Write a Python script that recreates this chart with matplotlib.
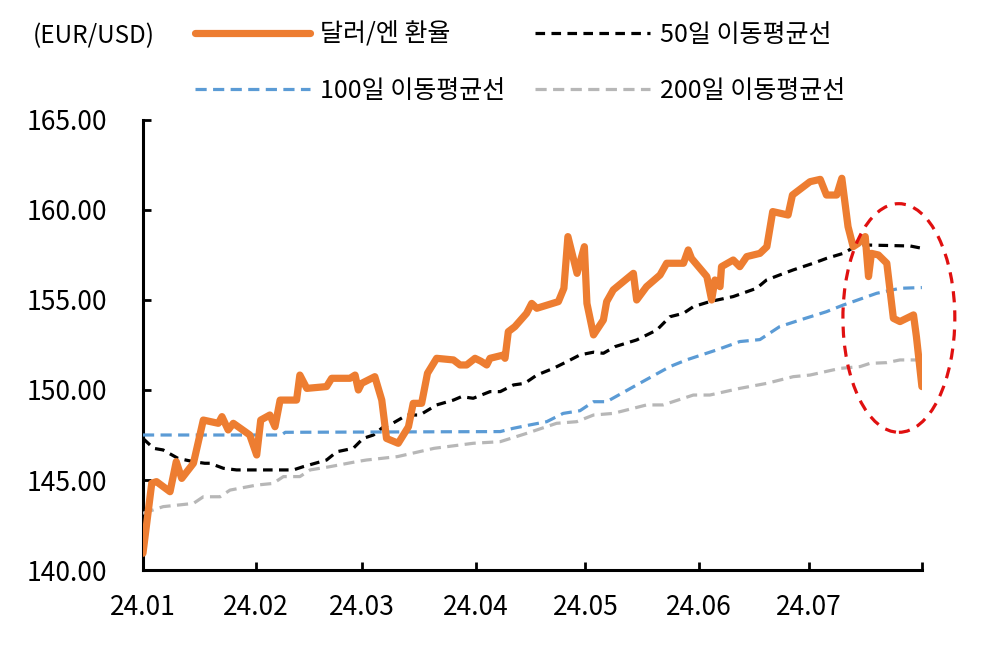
import numpy as np
import matplotlib
matplotlib.use("Agg")
import matplotlib.pyplot as plt
from matplotlib.patches import Ellipse

plt.rcParams['font.family'] = ['Noto Sans CJK KR', 'DejaVu Sans']

# x = days since 2024-01-01
fx_days = [0, 2.4, 3.7, 7.4, 9.1, 10.6, 13.8, 16.5, 20.6, 21.6, 23.3, 24.7, 27.9, 29.2,
           31.1, 32.2, 34.7, 36.1, 37.5, 42.0, 42.9, 44.8, 50.2, 51.6, 56.6, 58.0, 58.9,
           59.8, 63.4, 65.3, 66.6, 69.8, 72.6, 73.9, 76.2, 77.8, 80.3, 84.9, 86.7, 88.5,
           90.8, 92.4, 94.0, 94.9, 98.5, 99.0, 99.9, 101.7, 104.9, 106.3, 107.7, 113.6,
           115.1, 116.2, 118.7, 120.7, 121.4, 123.2, 125.9, 126.8, 128.6, 134.1, 135.0,
           137.7, 141.4, 143.2, 147.8, 149.1, 150.0, 154.2, 155.5, 156.4, 157.8, 158.2,
           161.4, 163.2, 165.1, 168.7, 170.6, 172.2, 176.4, 177.6, 182.4, 185.2, 186.9,
           189.7, 191.1, 192.8, 194.2, 195.6, 197.5, 198.4, 199.2, 201.1, 203.4, 205.2,
           207.0, 210.7, 211.5, 213.0]
fx_vals = [140.93, 144.82, 144.91, 144.35, 146.02, 145.09, 145.93, 148.33, 148.15, 148.52,
           147.78, 148.15, 147.69, 147.5, 146.39, 148.33, 148.61, 147.96, 149.44, 149.44,
           150.83, 150.09, 150.19, 150.65, 150.65, 150.83, 150.0, 150.37, 150.74, 149.44,
           147.31, 147.04, 147.96, 149.26, 149.26, 150.93, 151.76, 151.67, 151.39, 151.39,
           151.76, 151.6, 151.39, 151.76, 151.94, 151.76, 153.24, 153.52, 154.26, 154.81,
           154.54, 154.91, 155.65, 158.52, 156.48, 157.96, 154.81, 153.06, 153.89, 154.91,
           155.56, 156.48, 155.0, 155.74, 156.39, 157.04, 157.04, 157.78, 157.31, 156.3,
           155.0, 156.11, 155.74, 156.85, 157.22, 156.85, 157.41, 157.59, 157.96, 159.91,
           159.72, 160.83, 161.57, 161.7, 160.83, 160.83, 161.76, 159.07, 157.96, 158.15,
           158.52, 156.3, 157.59, 157.5, 157.04, 153.98, 153.8, 154.17, 152.96, 150.19]

ma50_days = [0, 2.9, 5.5, 9.6, 13.8, 16.9, 18.3, 22.0, 25.6, 41.1, 43.8, 50.2, 53.0, 57.5,
             60.2, 63.0, 65.8, 67.5, 72.2, 75.7, 80.3, 84.9, 87.1, 90.3, 94.9, 97.7, 101.3,
             104.4, 107.7, 112.2, 115.9, 119.5, 123.2, 125.9, 129.1, 135.0, 140.5, 144.1,
             147.8, 150.5, 155.0, 161.4, 167.8, 170.5, 174.1, 177.8, 183.3, 186.9, 191.5,
             194.7, 196.1, 209.8, 213.0]
ma50_vals = [147.31, 146.76, 146.67, 146.2, 146.02, 145.93, 145.93, 145.65, 145.56, 145.56,
             145.74, 146.11, 146.57, 146.76, 147.31, 147.5, 147.96, 148.06, 148.61, 148.61,
             149.17, 149.44, 149.63, 149.54, 149.91, 149.91, 150.28, 150.37, 150.83, 151.2,
             151.57, 151.95, 152.1, 152.04, 152.41, 152.78, 153.33, 154.07, 154.26, 154.63,
             154.91, 155.19, 155.65, 156.11, 156.39, 156.67, 157.04, 157.31, 157.59, 157.96,
             158.06, 158.0, 157.87]

ma100_days = [0, 37.9, 38.9, 97.7, 101.2, 105.8, 110.4, 114.9, 119.5, 123.2, 126.8, 135.0,
              144.1, 148.6, 156.8, 163.2, 168.7, 174.1, 179.7, 186.9, 191.5, 194.2, 200.6,
              207.0, 213.0]
ma100_vals = [147.5, 147.5, 147.65, 147.69, 147.87, 148.06, 148.24, 148.7, 148.85, 149.35,
              149.35, 150.28, 151.3, 151.67, 152.22, 152.69, 152.8, 153.52, 153.89, 154.35,
              154.72, 154.91, 155.37, 155.65, 155.69]

ma200_days = [0, 5.5, 13.8, 16.5, 21.1, 23.8, 31.1, 35.6, 38.4, 42.9, 45.7, 51.1, 58.4, 61.1,
              69.6, 79.6, 90.3, 97.7, 104.9, 113.1, 118.6, 123.2, 128.6, 137.7, 142.2, 150.5,
              155.0, 163.2, 170.6, 177.8, 182.4, 190.6, 196.1, 198.8, 203.4, 207.0, 213.0]
ma200_vals = [143.15, 143.52, 143.7, 144.07, 144.07, 144.44, 144.72, 144.81, 145.19, 145.19,
              145.56, 145.74, 146.02, 146.11, 146.3, 146.76, 147.04, 147.13, 147.59, 148.15,
              148.24, 148.61, 148.7, 149.17, 149.17, 149.72, 149.72, 150.09, 150.37, 150.74,
              150.83, 151.2, 151.3, 151.48, 151.52, 151.67, 151.67]

month_days = [0, 31, 60, 91, 121, 152, 182, 213]
month_labels = ['24.01', '24.02', '24.03', '24.04', '24.05', '24.06', '24.07', '']

fig = plt.figure(figsize=(9.86, 6.58), dpi=100)
ax = fig.add_axes([0.145, 0.1337, 0.79, 0.684])

l_fx, = ax.plot(fx_days, fx_vals, color='#ED7D31', lw=5.2, solid_joinstyle='round',
                solid_capstyle='round', label='달러/엔 환율', zorder=4)
l_50, = ax.plot(ma50_days, ma50_vals, color='black', lw=2.3, dashes=(3, 2),
                label='50일 이동평균선', zorder=3)
l_100, = ax.plot(ma100_days, ma100_vals, color='#5B9BD5', lw=2.3, dashes=(3.5, 2),
                 label='100일 이동평균선', zorder=3)
l_200, = ax.plot(ma200_days, ma200_vals, color='#B7B7B7', lw=2.3, dashes=(3.5, 2),
                 label='200일 이동평균선', zorder=3)

# highlight recent drop
ax.add_patch(Ellipse((206.7, 154.0), 30.6, 12.7, fill=False, edgecolor='#E01010',
                     lw=2.3, ls=(0, (3.5, 2.5)), clip_on=False, zorder=5))

ax.set_xlim(0, 213)
ax.set_ylim(140, 165)
ax.set_yticks(np.arange(140, 166, 5))
ax.set_yticklabels([f'{v:.2f}' for v in np.arange(140, 166, 5)])
ax.set_xticks(month_days)
ax.set_xticklabels(month_labels)

for s in ['top', 'right']:
    ax.spines[s].set_visible(False)
for s in ['left', 'bottom']:
    ax.spines[s].set_linewidth(2.2)
ax.tick_params(axis='both', direction='in', length=6, width=2, labelsize=19)
ax.tick_params(axis='y', pad=26)
ax.tick_params(axis='x', pad=17)

fig.text(33 / 986, 1 - 36 / 658, '(EUR/USD)', fontsize=17.5, va='center', ha='left')

fig.legend(handles=[l_fx, l_100, l_50, l_200], ncol=2, frameon=False, fontsize=18,
           loc='upper left', bbox_to_anchor=(195 / 986, 1 - 22 / 658), borderaxespad=0,
           borderpad=0, handlelength=4.6, handletextpad=0.4, columnspacing=1.2,
           labelspacing=1.2)

fig.savefig('out.png', dpi=100)
